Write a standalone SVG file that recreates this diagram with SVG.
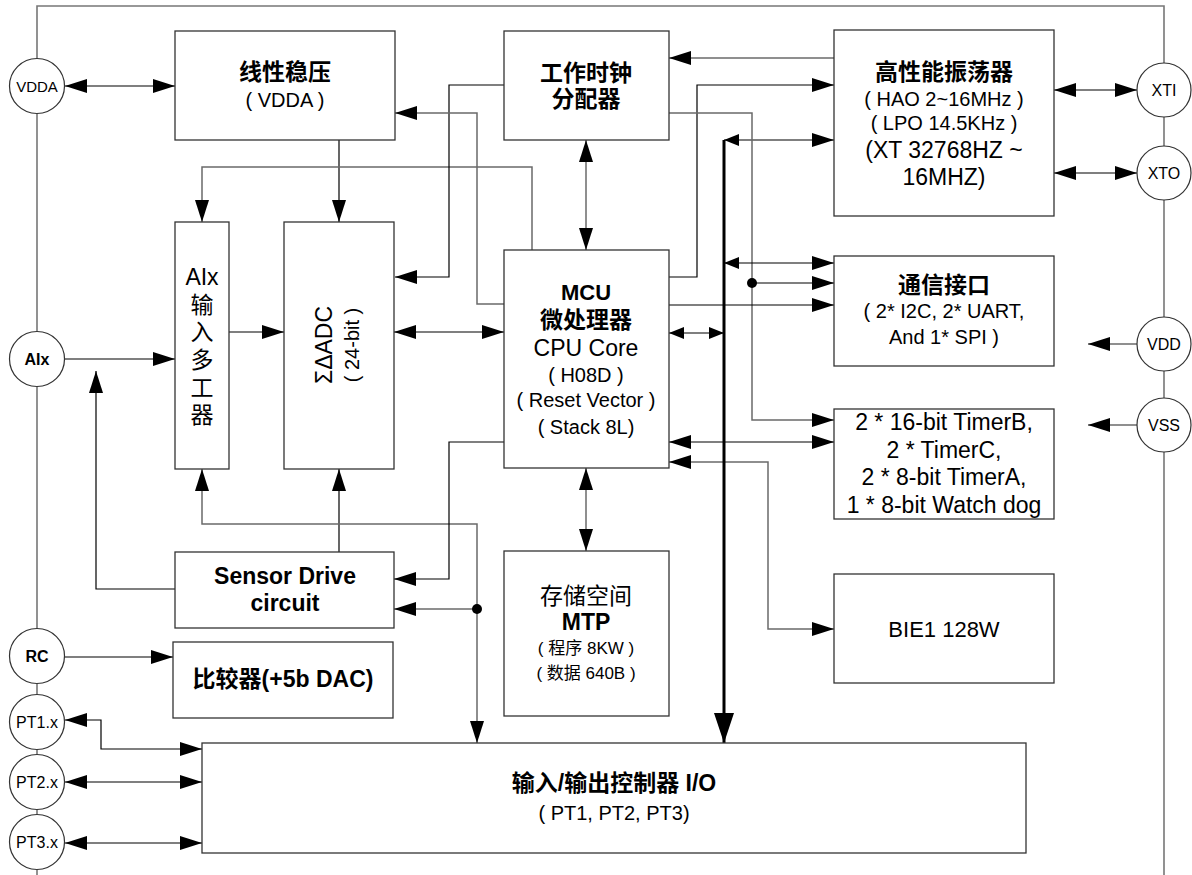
<svg xmlns="http://www.w3.org/2000/svg" width="1192" height="875" viewBox="0 0 1192 875">
<defs>
<style>
text{font-family:"Liberation Sans","Noto Sans CJK SC",sans-serif;fill:#000;text-anchor:middle;dominant-baseline:central;}
.b{font-weight:bold;font-size:23px;}
.r23{font-size:23px;}
.r22{font-size:22px;}
.r20{font-size:20px;}
.r17{font-size:17px;}
.c15{font-size:15px;}
.c16{font-size:16px;}
.cb{font-size:16px;font-weight:bold;}
.box{fill:#fff;stroke:#333;stroke-width:1.3;}
.pin{fill:#fff;stroke:#333;stroke-width:1.2;}
.frame{fill:none;stroke:#777;stroke-width:1.6;}
.k{fill:none;stroke:#000;stroke-width:1.2;}
.g{fill:none;stroke:#6a6a6a;stroke-width:1.5;}
.ae{marker-end:url(#ah);}
.ab{marker-start:url(#ah);marker-end:url(#ah);}
.bus{fill:none;stroke:#000;stroke-width:3;marker-end:url(#ahb);}
</style>
<marker id="ah" markerUnits="userSpaceOnUse" markerWidth="22" markerHeight="14" refX="22" refY="7" orient="auto-start-reverse" viewBox="0 0 22 14"><path d="M0,0 L22,7 L0,14 z" fill="#000"/></marker>
<marker id="as" markerUnits="userSpaceOnUse" markerWidth="15" markerHeight="12" refX="15" refY="6" orient="auto-start-reverse" viewBox="0 0 15 12"><path d="M0,0 L15,6 L0,12 z" fill="#000"/></marker>
<marker id="ahb" markerUnits="userSpaceOnUse" markerWidth="30" markerHeight="20" refX="30" refY="10" orient="auto" viewBox="0 0 30 20"><path d="M0,0 L30,10 L0,20 z" fill="#000"/></marker>
</defs>
<rect width="1192" height="875" fill="#fff"/>
<path class="frame" d="M37,875 V6 H1164 V875"/>

<g id="connectors">
<path class="k ab" d="M65,86 H175"/>
<path class="k ae" d="M339,140 V222"/>
<path class="g ae" d="M532,250 V167 H202 V222"/>
<path class="k ae" d="M504,85 H449 V277 H395"/>
<path class="g ae" d="M504,304 H477 V113 H395"/>
<path class="k ae" d="M65,359 H175"/>
<path class="k ae" d="M175,589 H96 V371"/>
<path class="k ae" d="M229,332 H284"/>
<path class="k ab" d="M394,332 H504"/>
<path class="g ab" d="M586,140 V250"/>
<path class="g ab" d="M586,468 V551"/>
<path class="k ae" d="M339,552 V469"/>
<path class="g ab" d="M477,743 V524 H202 V469"/>
<path class="g ae" d="M477,609 H394"/>
<circle cx="477" cy="609" r="5" fill="#000"/>
<path class="k ae" d="M504,442 H449 V579 H394"/>
<path class="g ae" d="M834,58 H669"/>
<path class="k ae" d="M669,277 H697 V85 H834"/>
<path class="k ae" d="M724,140 H834" style="marker-start:url(#as)"/>
<path class="g ae" d="M669,113 H752 V420 H834"/>
<path class="k ae" d="M752,283 H834"/>
<circle cx="752" cy="283" r="5" fill="#000"/>
<path class="k ae" d="M724,263 H834" style="marker-start:url(#as)"/>
<path class="k ae" d="M669,305 H834"/>
<path class="k" d="M669,333 H724" style="marker-start:url(#as);marker-end:url(#as)"/>
<path class="k ab" d="M669,442 H834"/>
<path class="g ab" d="M669,462 H768 V629 H834"/>
<path class="bus" d="M724,140 V743"/>
<path class="k ab" d="M1054,90 H1137"/>
<path class="k ab" d="M1054,173 H1137"/>
<path class="g ae" d="M1137,344 H1088"/>
<path class="g ae" d="M1137,425 H1088"/>
<path class="k ae" d="M65,657 H173"/>
<path class="k ab" d="M65,720 H101 V749 H202"/>
<path class="k ab" d="M65,782 H202"/>
<path class="k ab" d="M65,843 H202"/>
</g>

<g id="pin-vdda"><circle class="pin" cx="37" cy="86" r="27.5"/><text class="c15" x="37" y="86">VDDA</text></g>
<g id="pin-aix"><circle class="pin" cx="37" cy="359" r="27.5"/><text class="cb" x="37" y="359">AIx</text></g>
<g id="pin-rc"><circle class="pin" cx="37" cy="656" r="27.5"/><text class="cb" x="37" y="656">RC</text></g>
<g id="pin-pt1"><circle class="pin" cx="37" cy="722" r="27.5"/><text class="c16" x="37" y="722">PT1.x</text></g>
<g id="pin-pt2"><circle class="pin" cx="37" cy="782" r="27.5"/><text class="c16" x="37" y="782">PT2.x</text></g>
<g id="pin-pt3"><circle class="pin" cx="37" cy="842" r="27.5"/><text class="c16" x="37" y="842">PT3.x</text></g>
<g id="pin-xti"><circle class="pin" cx="1164" cy="90" r="27"/><text class="c16" x="1164" y="90">XTI</text></g>
<g id="pin-xto"><circle class="pin" cx="1164" cy="173" r="27"/><text class="c16" x="1164" y="173">XTO</text></g>
<g id="pin-vdd"><circle class="pin" cx="1164" cy="344" r="27"/><text class="c16" x="1164" y="344">VDD</text></g>
<g id="pin-vss"><circle class="pin" cx="1164" cy="425" r="27"/><text class="c16" x="1164" y="425">VSS</text></g>

<g id="ldo"><rect class="box" x="175" y="31" width="220" height="109"/>
<text class="b" x="285" y="72">线性稳压</text><text class="r20" x="285" y="100">( VDDA )</text></g>

<g id="clock"><rect class="box" x="504" y="31" width="165" height="109"/>
<text class="b" x="586" y="73">工作时钟</text><text class="b" x="586" y="99">分配器</text></g>

<g id="osc"><rect class="box" x="834" y="30" width="220" height="186"/>
<text class="b" x="944" y="72">高性能振荡器</text>
<text class="r20" x="944" y="99">( HAO 2~16MHz )</text>
<text class="r20" x="944" y="123">( LPO 14.5KHz )</text>
<text class="r23" x="944" y="150">(XT 32768HZ ~</text>
<text class="r23" x="944" y="177">16MHZ)</text></g>

<g id="aix-mux"><rect class="box" x="175" y="222" width="54" height="247"/>
<text class="r23" x="202" y="277">AIx</text>
<text class="r23" x="202" y="305">输</text>
<text class="r23" x="202" y="332">入</text>
<text class="r23" x="202" y="360">多</text>
<text class="r23" x="202" y="388">工</text>
<text class="r23" x="202" y="415">器</text></g>

<g id="adc"><rect class="box" x="284" y="222" width="110" height="247"/>
<text class="r23" transform="translate(324,345) rotate(-90)">ΣΔADC</text>
<text class="r20" transform="translate(352,345) rotate(-90)">( 24-bit )</text></g>

<g id="mcu"><rect class="box" x="504" y="250" width="165" height="218"/>
<text class="b" style="font-size:22px" x="586" y="292">MCU</text>
<text class="b" x="586" y="320">微处理器</text>
<text class="r23" x="586" y="348">CPU Core</text>
<text class="r20" x="586" y="375">( H08D )</text>
<text class="r20" x="586" y="400">( Reset Vector )</text>
<text class="r20" x="586" y="427">( Stack 8L)</text></g>

<g id="comm"><rect class="box" x="834" y="256" width="220" height="110"/>
<text class="b" x="944" y="285">通信接口</text>
<text class="r20" x="944" y="311">( 2* I2C, 2* UART,</text>
<text class="r20" x="944" y="337">And 1* SPI )</text></g>

<g id="timers"><rect class="box" x="834" y="409" width="220" height="110"/>
<text class="r23" x="944" y="422">2 * 16-bit TimerB,</text>
<text class="r23" x="944" y="450">2 * TimerC,</text>
<text class="r23" x="944" y="477">2 * 8-bit TimerA,</text>
<text class="r23" x="944" y="505">1 * 8-bit Watch dog</text></g>

<g id="sensor"><rect class="box" x="175" y="552" width="219" height="76"/>
<text class="b" x="285" y="576">Sensor Drive</text>
<text class="b" x="285" y="603">circuit</text></g>

<g id="mtp"><rect class="box" x="504" y="551" width="165" height="165"/>
<text class="r23" x="586" y="596">存储空间</text>
<text class="b" x="586" y="622">MTP</text>
<text class="r17" x="586" y="648">( 程序 8KW )</text>
<text class="r17" x="586" y="673">( 数据 640B )</text></g>

<g id="bie"><rect class="box" x="834" y="574" width="220" height="109"/>
<text class="r22" x="944" y="629">BIE1 128W</text></g>

<g id="comparator"><rect class="box" x="173" y="642" width="220" height="76"/>
<text class="b" x="283" y="679">比较器(+5b DAC)</text></g>

<g id="io"><rect class="box" x="202" y="743" width="824" height="110"/>
<text class="b" x="614" y="783">输入/输出控制器 I/O</text>
<text class="r20" x="614" y="813">( PT1, PT2, PT3)</text></g>
</svg>
